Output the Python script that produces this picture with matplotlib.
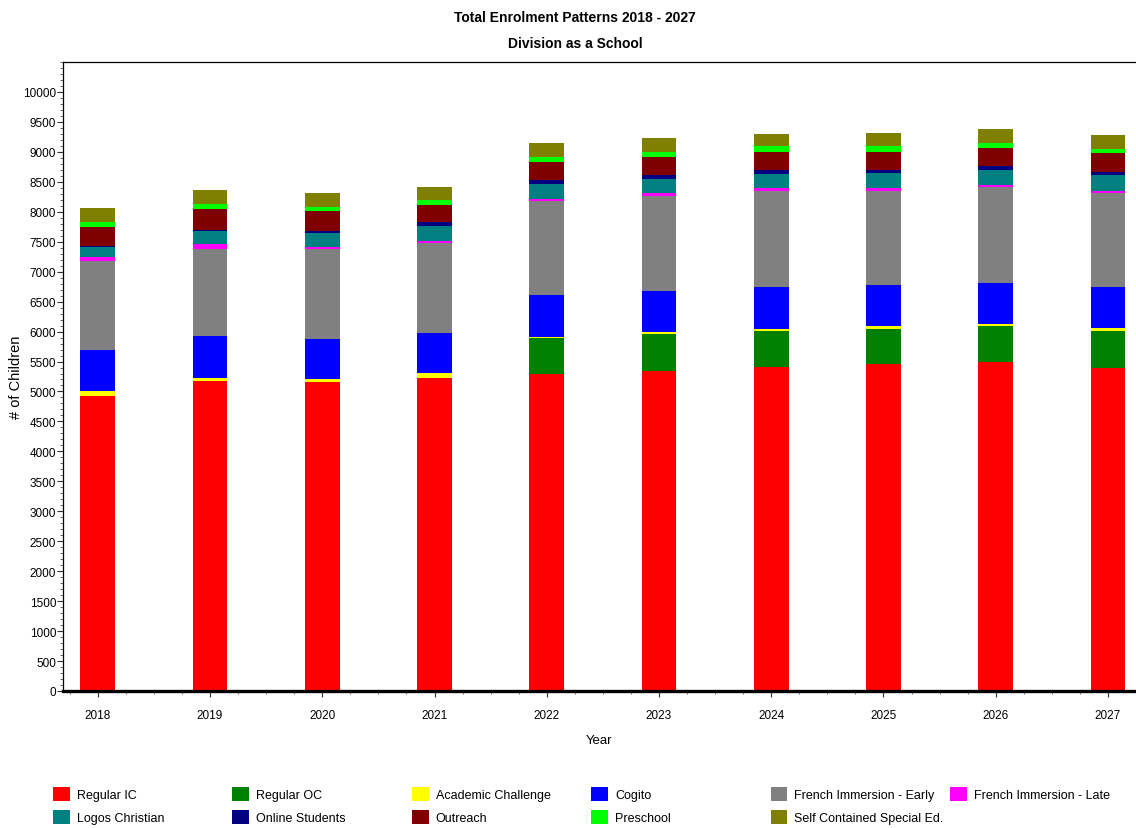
import numpy as np
import matplotlib.pyplot as plt
from matplotlib.ticker import MultipleLocator
from matplotlib.patches import Patch

plt.rcParams['font.family'] = ['Liberation Sans', 'DejaVu Sans']

# data
years = np.array([2018, 2019, 2020, 2021, 2022, 2023, 2024, 2025, 2026, 2027])
regular_ic = [4920, 5180, 5160, 5220, 5300, 5350, 5410, 5460, 5490, 5390]
regular_oc = [0, 0, 0, 0, 585, 610, 600, 590, 600, 625]
academic_challenge = [95, 50, 50, 90, 30, 25, 40, 45, 30, 40]
cogito = [680, 700, 665, 665, 695, 695, 695, 675, 690, 695]
fi_early = [1490, 1450, 1500, 1510, 1565, 1585, 1600, 1580, 1600, 1570]
fi_late = [60, 80, 45, 30, 40, 45, 45, 45, 30, 30]
logos = [170, 220, 230, 255, 250, 235, 240, 260, 260, 265]
online = [15, 15, 35, 65, 65, 70, 65, 45, 65, 45]
outreach = [310, 355, 320, 285, 300, 295, 295, 295, 295, 320]
preschool = [85, 85, 70, 80, 80, 85, 110, 110, 85, 70]
self_contained = [245, 220, 230, 220, 235, 235, 205, 205, 235, 235]

series = [
    ('Regular IC', regular_ic, '#FF0000'),
    ('Regular OC', regular_oc, '#008000'),
    ('Academic Challenge', academic_challenge, '#FFFF00'),
    ('Cogito', cogito, '#0000FF'),
    ('French Immersion - Early', fi_early, '#808080'),
    ('French Immersion - Late', fi_late, '#FF00FF'),
    ('Logos Christian', logos, '#008080'),
    ('Online Students', online, '#000080'),
    ('Outreach', outreach, '#800000'),
    ('Preschool', preschool, '#00FF00'),
    ('Self Contained Special Ed.', self_contained, '#808000'),
]

fig = plt.figure(figsize=(11.36, 8.29), dpi=100)
ax = fig.add_axes([63 / 1136, 137 / 829, 1 - 63 / 1136, (692 - 63) / 829])

bottom = np.zeros(len(years))
handles = {}
for name, vals, col in series:
    vals = np.array(vals, dtype=float)
    ax.bar(years, vals, width=0.31, bottom=bottom, color=col, linewidth=0)
    handles[name] = Patch(facecolor=col, edgecolor='none')
    bottom += vals

ax.set_xlim(2017.69, 2027.25)
ax.set_ylim(0, 10500)
ax.set_xticks(years)
ax.set_xticklabels([str(y) for y in years])
ax.xaxis.set_minor_locator(MultipleLocator(0.25))
ax.set_yticks(np.arange(0, 10001, 500))
ax.yaxis.set_minor_locator(MultipleLocator(100))
ax.tick_params(axis='both', which='major', labelsize=8.5, length=4, width=0.8, color='#333333')
ax.tick_params(axis='both', which='minor', length=2, width=0.6, color='#555555')
ax.tick_params(axis='x', which='major', pad=9)
ax.tick_params(axis='y', which='major', pad=1)

ax.spines['bottom'].set_linewidth(2.4)
ax.spines['left'].set_linewidth(0.9)
ax.spines['top'].set_linewidth(0.9)
ax.spines['right'].set_visible(False)

ax.set_xlabel('Year', fontsize=9.5, labelpad=9)
ax.set_ylabel('# of Children', fontsize=10.5)
ax.yaxis.set_label_coords(-0.037, 0.5)

fig.text(0.506, 0.978, 'Total Enrolment Patterns 2018 - 2027', ha='center', va='center',
         fontsize=10, fontweight='bold')
fig.text(0.506, 0.947, 'Division as a School', ha='center', va='center',
         fontsize=10, fontweight='bold')

# legend: 6 evenly spaced columns, 2 rows
columns = [
    ['Regular IC', 'Logos Christian'],
    ['Regular OC', 'Online Students'],
    ['Academic Challenge', 'Outreach'],
    ['Cogito', 'Preschool'],
    ['French Immersion - Early', 'Self Contained Special Ed.'],
    ['French Immersion - Late'],
]
for i, names in enumerate(columns):
    x0 = (53 + i * 179.4) / 1136
    fig.legend([handles[n] for n in names], names, loc='upper left',
               bbox_to_anchor=(x0, 41 / 829), frameon=False, fontsize=9,
               handlelength=1.35, handleheight=1.3, handletextpad=0.55,
               labelspacing=0.75, borderpad=0, borderaxespad=0)

fig.savefig('out.png', dpi=100)
